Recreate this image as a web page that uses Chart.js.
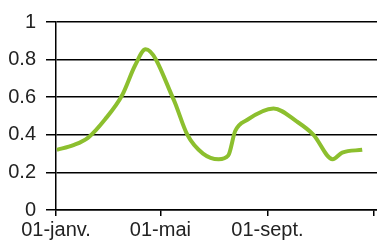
<!DOCTYPE html>
<html>
<head>
<meta charset="utf-8">
<script src="https://cdn.jsdelivr.net/npm/chart.js@4"></script>
<style>
	html, body { margin: 0; padding: 0; background: #fff; }
	#wrap { width: 377px; height: 245px; }
</style>
</head>
<body>
<div id="wrap"><canvas id="graphique"></canvas></div>
<script>
// Jours de l'année (0 = 01-janv.) et valeurs
const jours = [1, 20, 37, 56, 76, 91, 103, 135, 151, 169, 187, 198, 206, 220, 250, 277, 296, 318, 329, 352];
const valeurs = [0.32, 0.345, 0.385, 0.48, 0.61, 0.77, 0.855, 0.59, 0.40, 0.30, 0.27, 0.29, 0.42, 0.48, 0.54, 0.47, 0.40, 0.27, 0.305, 0.32];

// Graduations de l'axe des dates
const xTicks = [0, 120, 243, 365];
const xLabels = ["01-janv.", "01-mai", "01-sept.", ""];
const yTicks = [0, 0.2, 0.4, 0.6, 0.8, 1];

const points = jours.map((j, i) => ({ x: j, y: valeurs[i] }));

const police = { family: "'Liberation Sans', Arial, sans-serif", size: 20 };

const config = {
	type: "line",
	data: {
		datasets: [{
			data: points,
			borderColor: "#8cbf2e",
			borderWidth: 4,
			pointRadius: 0,
			cubicInterpolationMode: "monotone",
			fill: false
		}]
	},
	options: {
		responsive: true,
		maintainAspectRatio: false,
		animation: false,
		layout: { padding: { top: 19, right: 0, left: 0, bottom: 0 } },
		plugins: { legend: { display: false }, tooltip: { enabled: false } },
		scales: {
			x: {
				type: "linear",
				min: 0,
				max: 369,
				afterBuildTicks: (axis) => { axis.ticks = xTicks.map(v => ({ value: v })); },
				afterFit: (scale) => { scale.height = 35; },
				ticks: {
					autoSkip: false,
					maxRotation: 0,
					padding: 2,
					color: "#222",
					font: police,
					callback: (v) => xLabels[xTicks.indexOf(v)]
				},
				grid: { drawOnChartArea: false, drawTicks: true, tickLength: 6, color: "#000", lineWidth: 1.5 },
				border: { display: true, color: "#000", width: 1.5 }
			},
			y: {
				min: 0,
				max: 1,
				afterBuildTicks: (axis) => { axis.ticks = yTicks.map(v => ({ value: v })); },
				afterFit: (scale) => { scale.width = 56; },
				ticks: {
					padding: 10,
					color: "#222",
					font: police,
					callback: (v) => String(Math.round(v * 10) / 10)
				},
				grid: { color: "#000", lineWidth: 1.5, tickLength: 10 },
				border: { display: true, color: "#000", width: 1.5 }
			}
		}
	}
};

new Chart(document.querySelector("#graphique"), config);
</script>
</body>
</html>
